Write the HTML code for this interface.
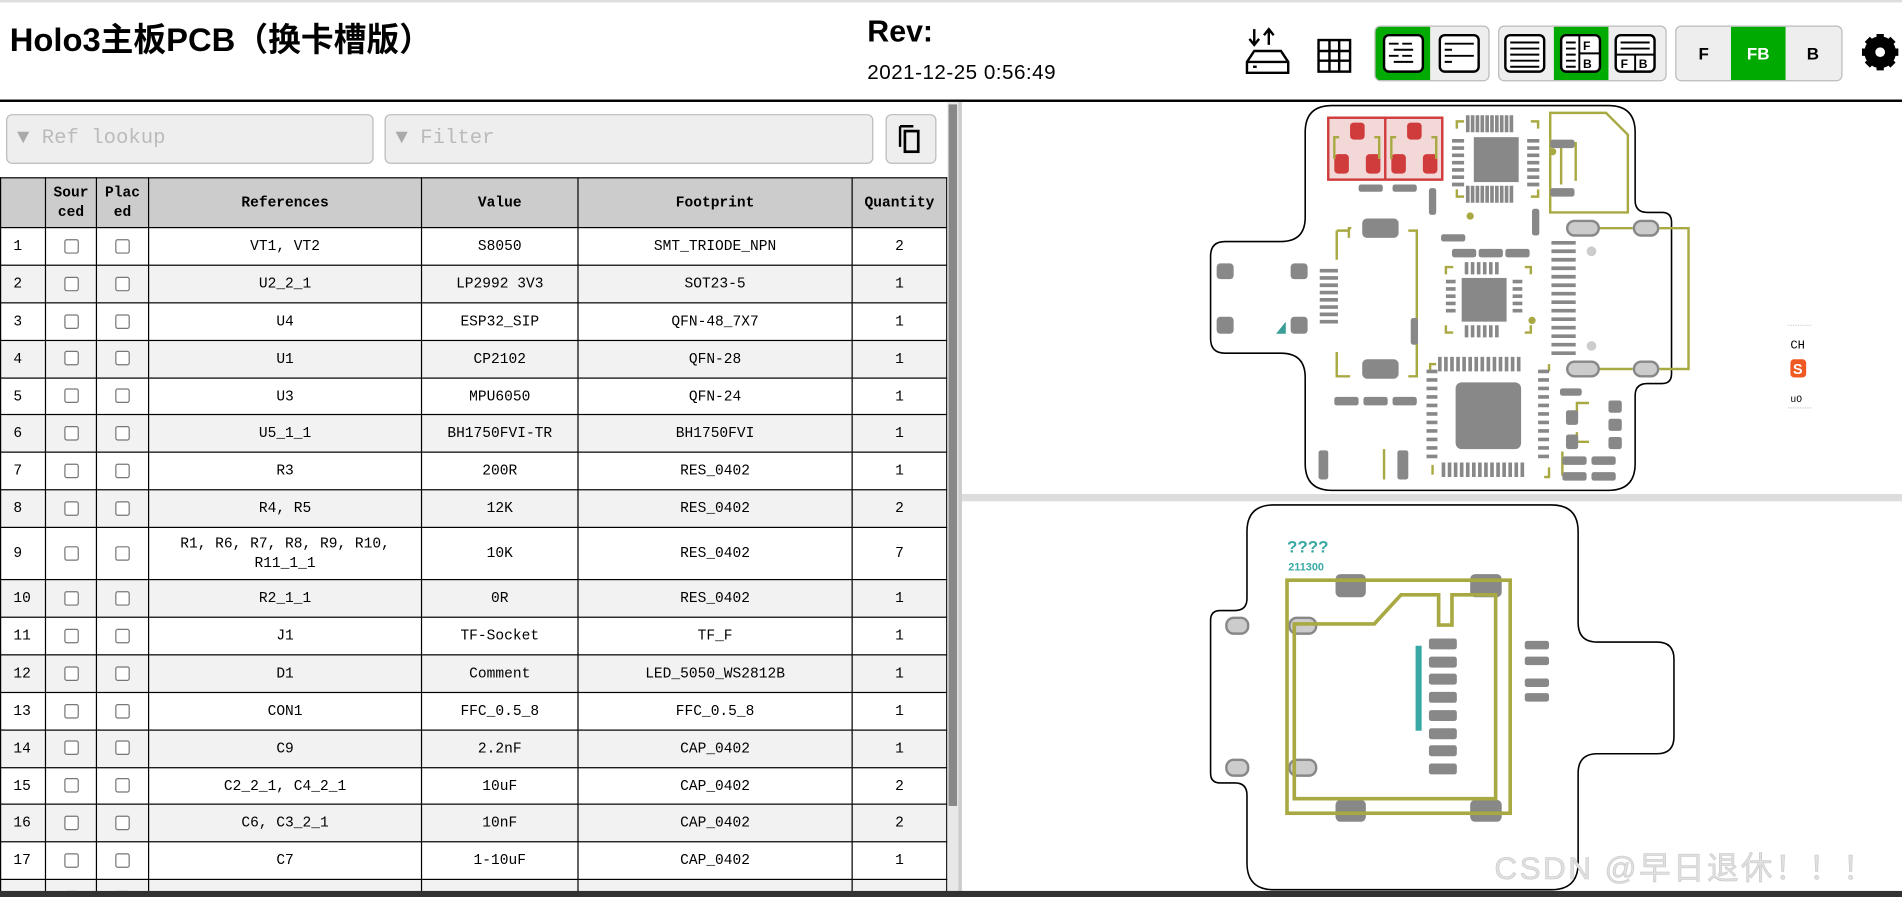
<!DOCTYPE html>
<html><head><meta charset="utf-8"><style>
html,body{margin:0;padding:0;width:1902px;height:897px;overflow:hidden;background:#fff}
#w{position:absolute;left:0;top:0;width:1568px;height:739px;transform:scale(1.21301,1.2138);transform-origin:0 0;font-family:"Liberation Sans","Noto Sans CJK SC",sans-serif;}
.a{position:absolute}
table{border-collapse:collapse;font-family:"Liberation Mono",monospace;font-size:12px;position:absolute;left:0;top:146px;width:781px}
td,th{border:1px solid #000;text-align:center;padding:0;line-height:16px}
th{background:#ccc;height:40px;font-size:12px}
td{height:29.9px;background:#fff}
tr:nth-child(odd) td{background:#f2f2f2}
td:first-child{text-align:left;padding-left:10px}
.cb{display:inline-block;width:10px;height:10px;border:1px solid #777;border-radius:2px;vertical-align:middle;background:#fff}
.inp{position:absolute;top:94px;height:39px;border:1px solid #bbb;border-radius:5px;background:#eee;font-family:"Liberation Mono",monospace;font-size:17px;color:#bbb;line-height:39px}
.grp{position:absolute;top:21px;height:44px;border:1px solid #bbb;border-radius:5px;background:#eee;overflow:hidden}
.btn{position:absolute;top:0;height:44px;width:45px}
</style></head><body><div id="w">
<div class="a" style="left:0;top:0;width:1568px;height:2px;background:#ddd"></div>
<div class="a" style="left:8px;top:11px;font-size:27px;font-weight:bold;letter-spacing:0px">Holo3主板PCB（换卡槽版）</div>
<div class="a" style="left:715px;top:12px;font-size:25px;font-weight:bold">Rev:</div>
<div class="a" style="left:715px;top:50px;font-size:17px;letter-spacing:0.4px">2021-12-25 0:56:49</div>
<svg class="a" style="left:1020px;top:15px" width="548" height="60" viewBox="1020 15 548 60">
 <g fill="none" stroke="#000" stroke-width="2">
  <path d="M1034,24 v12 m-4,-4 l4,5 l4,-5 M1046,37 v-12 m-4,4 l4,-5 l4,5"/>
  <path d="M1034,42 h22 l6,9 v9 h-34 v-9 z M1028,51 h34"/>
  <rect x="1087" y="33" width="26" height="26"/>
  <path d="M1096,33 v26 M1104,33 v26 M1087,42 h26 M1087,50 h26"/>
 </g>
 <rect x="1033" y="54" width="3" height="2" fill="#000"/>
</svg>
<div class="grp" style="left:1133px;width:93px">
 <div class="btn" style="left:0;background:#0a0"></div>
</div>
<div class="grp" style="left:1235px;width:137px">
 <div class="btn" style="left:45px;background:#0a0"></div>
</div>
<div class="grp" style="left:1381px;width:136px;font-weight:bold;font-size:14px">
 <div class="btn" style="left:0;line-height:44px;text-align:center">F</div>
 <div class="btn" style="left:45px;background:#0a0;color:#fff;line-height:44px;text-align:center">FB</div>
 <div class="btn" style="left:90px;line-height:44px;text-align:center">B</div>
</div>
<svg class="a" style="left:1130px;top:20px" width="438" height="50" viewBox="1130 20 438 50">
 <g fill="#fff" stroke="#000" stroke-width="2">
  <rect x="1141" y="29" width="32" height="30" rx="4"/>
  <rect x="1187" y="29" width="32" height="30" rx="4"/>
  <rect x="1241" y="29" width="32" height="30" rx="4"/>
  <rect x="1287" y="29" width="32" height="30" rx="4"/>
  <rect x="1332" y="29" width="32" height="30" rx="4"/>
 </g>
 <g stroke="#000" stroke-width="1.6">
  <path d="M1145,36h8m3,0h8 M1149,41h16 M1145,46h8m3,0h8 M1149,51h16"/>
  <path d="M1191,36h24 M1191,41h6 M1191,46h24 M1191,51h6"/>
  <path d="M1245,35h24 M1245,40h24 M1245,45h24 M1245,50h24 M1245,55h24"/>
  <path d="M1291,35h8 M1291,40h8 M1291,45h8 M1291,50h8 M1291,55h8 M1302,29v30 M1302,44h17"/>
  <path d="M1336,35h24 M1336,40h24 M1332,45h32 M1348,45v14"/>
 </g>
 <g font-family="Liberation Sans" font-weight="bold" font-size="10">
  <text x="1305" y="41">F</text><text x="1305" y="56">B</text>
  <text x="1336" y="56">F</text><text x="1351" y="56">B</text>
 </g>
 <g transform="translate(1550,43)">
  <circle r="10" fill="none" stroke="#000" stroke-width="6"/>
  <g stroke="#000" stroke-width="6"><path d="M0,-15v30M-15,0h30M-10.6,-10.6l21.2,21.2M10.6,-10.6l-21.2,21.2"/></g>
  <circle r="4" fill="#fff"/>
 </g>
</svg>
<div class="a" style="left:0;top:82px;width:1568px;height:2px;background:#000"></div>
<div class="inp" style="left:5px;width:301px"><span style="color:#aaa;margin-left:8px">▼</span> Ref lookup</div>
<div class="inp" style="left:317px;width:401px"><span style="color:#aaa;margin-left:8px">▼</span> Filter</div>
<div class="inp" style="left:730px;width:40px;background:#eee"></div>
<svg class="a" style="left:738px;top:101px" width="26" height="28"><path d="M4,3 h11 M4,3 v17" stroke="#000" stroke-width="2" fill="none"/><rect x="8" y="7" width="11" height="17" fill="none" stroke="#000" stroke-width="2.2"/></svg>
<div class="a" style="left:0;top:140px;width:781px;height:595px;overflow:hidden">
<table style="top:6px">
<tr><th style="width:36px"></th><th style="width:41px">Sour<br>ced</th><th style="width:42px">Plac<br>ed</th><th style="width:224px">References</th><th style="width:128px">Value</th><th style="width:225px">Footprint</th><th>Quantity</th></tr>
<tr><td>1</td><td><i class="cb"></i></td><td><i class="cb"></i></td><td>VT1, VT2</td><td>S8050</td><td>SMT_TRIODE_NPN</td><td>2</td></tr>
<tr><td>2</td><td><i class="cb"></i></td><td><i class="cb"></i></td><td>U2_2_1</td><td>LP2992 3V3</td><td>SOT23-5</td><td>1</td></tr>
<tr><td>3</td><td><i class="cb"></i></td><td><i class="cb"></i></td><td>U4</td><td>ESP32_SIP</td><td>QFN-48_7X7</td><td>1</td></tr>
<tr><td>4</td><td><i class="cb"></i></td><td><i class="cb"></i></td><td>U1</td><td>CP2102</td><td>QFN-28</td><td>1</td></tr>
<tr><td>5</td><td><i class="cb"></i></td><td><i class="cb"></i></td><td>U3</td><td>MPU6050</td><td>QFN-24</td><td>1</td></tr>
<tr><td>6</td><td><i class="cb"></i></td><td><i class="cb"></i></td><td>U5_1_1</td><td>BH1750FVI-TR</td><td>BH1750FVI</td><td>1</td></tr>
<tr><td>7</td><td><i class="cb"></i></td><td><i class="cb"></i></td><td>R3</td><td>200R</td><td>RES_0402</td><td>1</td></tr>
<tr><td>8</td><td><i class="cb"></i></td><td><i class="cb"></i></td><td>R4, R5</td><td>12K</td><td>RES_0402</td><td>2</td></tr>
<tr><td style="height:42px">9</td><td><i class="cb"></i></td><td><i class="cb"></i></td><td>R1, R6, R7, R8, R9, R10,<br>R11_1_1</td><td>10K</td><td>RES_0402</td><td>7</td></tr>
<tr><td>10</td><td><i class="cb"></i></td><td><i class="cb"></i></td><td>R2_1_1</td><td>0R</td><td>RES_0402</td><td>1</td></tr>
<tr><td>11</td><td><i class="cb"></i></td><td><i class="cb"></i></td><td>J1</td><td>TF-Socket</td><td>TF_F</td><td>1</td></tr>
<tr><td>12</td><td><i class="cb"></i></td><td><i class="cb"></i></td><td>D1</td><td>Comment</td><td>LED_5050_WS2812B</td><td>1</td></tr>
<tr><td>13</td><td><i class="cb"></i></td><td><i class="cb"></i></td><td>CON1</td><td>FFC_0.5_8</td><td>FFC_0.5_8</td><td>1</td></tr>
<tr><td>14</td><td><i class="cb"></i></td><td><i class="cb"></i></td><td>C9</td><td>2.2nF</td><td>CAP_0402</td><td>1</td></tr>
<tr><td>15</td><td><i class="cb"></i></td><td><i class="cb"></i></td><td>C2_2_1, C4_2_1</td><td>10uF</td><td>CAP_0402</td><td>2</td></tr>
<tr><td>16</td><td><i class="cb"></i></td><td><i class="cb"></i></td><td>C6, C3_2_1</td><td>10nF</td><td>CAP_0402</td><td>2</td></tr>
<tr><td>17</td><td><i class="cb"></i></td><td><i class="cb"></i></td><td>C7</td><td>1-10uF</td><td>CAP_0402</td><td>1</td></tr>
<tr><td>18</td><td><i class="cb"></i></td><td><i class="cb"></i></td><td>C1</td><td>100nF</td><td>CAP_0402</td><td>3</td></tr>
</table></div>
<div class="a" style="left:781px;top:84px;width:9px;height:651px;background:#e8e8e8"></div>
<div class="a" style="left:782px;top:86px;width:7px;height:578px;background:#888"></div>
<div class="a" style="left:790px;top:84px;width:3px;height:651px;background:#ccc"></div>
<div class="a" style="left:793px;top:407px;width:775px;height:6px;background:#ddd"></div>
<div class="a" style="left:0;top:734px;width:1568px;height:5px;background:#333"></div>
<svg class="a" style="left:0;top:0" width="1568" height="739" viewBox="0 0 1568 739">
 <g fill="none" stroke="#000" stroke-width="1.3">
  <path d="M1098,87 H1326 Q1348,87 1348,109 V165 Q1348,175 1358,175 H1370 Q1378,175 1378,183 V308 Q1378,316 1370,316 H1358 Q1348,316 1348,326 V382 Q1348,404 1326,404 H1098 Q1076,404 1076,382 V311 Q1076,291 1056,291 H1010 Q998,291 998,279 V211 Q998,199 1010,199 H1056 Q1076,199 1076,179 V109 Q1076,87 1098,87 Z"/>
  <path d="M1050,416 H1279 Q1301,416 1301,438 V513 Q1301,529 1317,529 H1366 Q1380,529 1380,543 V607 Q1380,621 1366,621 H1317 Q1301,621 1301,637 V711 Q1301,733 1279,733 H1050 Q1028,733 1028,711 V655 Q1028,645 1018,645 H1006 Q998,645 998,637 V511 Q998,503 1006,503 H1018 Q1028,503 1028,493 V438 Q1028,416 1050,416 Z"/>
 </g>
 <rect x="1095" y="97" width="94" height="51" fill="#f3d8d8" stroke="#d03c3c" stroke-width="2"/>
 <line x1="1142" y1="97" x2="1142" y2="148" stroke="#d03c3c" stroke-width="2"/>
 <g fill="#d03c3c">
  <rect x="1113" y="101" width="12" height="14" rx="3"/><rect x="1100" y="127" width="12" height="16" rx="3"/><rect x="1126" y="127" width="12" height="16" rx="3"/>
  <rect x="1160" y="101" width="12" height="14" rx="3"/><rect x="1147" y="127" width="12" height="16" rx="3"/><rect x="1173" y="127" width="12" height="16" rx="3"/>
 </g>
 <g fill="none" stroke="#a9a944" stroke-width="2">
  <path d="M1104,113 h-4 v18 M1133,113 h4 v18 M1151,113 h-4 v18 M1180,113 h4 v18"/>
  <path d="M1201,106 v-6 h6 M1262,100 h6 v6 M1201,156 v6 h6 M1262,162 h6 v-6"/>
  <path d="M1278,93 h46 l18,18 v64 h-64 z"/>
  <path d="M1112,196 v-8 h2 M1102,190 v24 M1102,190 h11 M1161,190 h7 v120 h-7 M1102,290 v20 h11"/>
  <path d="M1316,188 h30 M1368,188 h24 v116 h-24 M1316,304 h30"/>
  <path d="M1192,226 v-6 h6 M1257,220 h5 v6 M1192,268 v6 h6 M1257,274 h5 v-6"/>
  <path d="M1179,306 v-6 h5 M1277,300 v6 M1181,383 v8 M1277,385 v8 h-4"/>
  <path d="M1300,340 v-8 h10 M1300,356 v8 h10 M1288,372 v20"/>
  <path d="M1299,117 v32 M1287,117 v35 M1141,370 v25"/>
 </g>
 <g fill="#888">
  <rect x="1215" y="113" width="37" height="37"/>
  <rect x="1205" y="229" width="37" height="36"/>
  <rect x="1200" y="315" width="54" height="55" rx="5"/>
  <rect x="1123" y="180" width="30" height="16" rx="4"/>
  <rect x="1123" y="296" width="30" height="16" rx="4"/>
  <rect x="1003" y="217" width="14" height="13" rx="3"/><rect x="1003" y="261" width="14" height="14" rx="3"/>
  <rect x="1064" y="217" width="14" height="13" rx="3"/><rect x="1064" y="261" width="14" height="14" rx="3"/>
  <rect x="1087" y="371" width="8" height="24" rx="2"/><rect x="1152" y="371" width="9" height="24" rx="2"/>
  <rect x="1291" y="338" width="10" height="12" rx="2"/><rect x="1291" y="358" width="10" height="12" rx="2"/>
  <rect x="1326" y="330" width="11" height="10" rx="2"/><rect x="1326" y="345" width="11" height="10" rx="2"/><rect x="1326" y="360" width="11" height="10" rx="2"/>
 </g>
 <g stroke="#888" stroke-width="3">
  <path d="M1088,223h15M1088,229h15M1088,235h15M1088,241h15M1088,247h15M1088,253h15M1088,259h15M1088,265h15"/>
  <path d="M1279,200h20M1279,207h20M1279,214h20M1279,221h20M1279,228h20M1279,235h20M1279,242h20M1279,249h20M1279,256h20M1279,263h20M1279,270h20M1279,277h20M1279,284h20M1279,291h20"/>
  <path d="M1210,95v14M1214,95v14M1218,95v14M1222,95v14M1226,95v14M1230,95v14M1234,95v14M1238,95v14M1242,95v14M1246,95v14 M1210,153v14M1214,153v14M1218,153v14M1222,153v14M1226,153v14M1230,153v14M1234,153v14M1238,153v14M1242,153v14M1246,153v14"/>
  <path d="M1197,116h10M1197,122h10M1197,128h10M1197,134h10M1197,140h10M1197,146h10M1197,152h10M1259,116h10M1259,122h10M1259,128h10M1259,134h10M1259,140h10M1259,146h10M1259,152h10"/>
  <path d="M1209,216v10M1214,216v10M1219,216v10M1224,216v10M1229,216v10M1234,216v10M1209,268v10M1214,268v10M1219,268v10M1224,268v10M1229,268v10M1234,268v10"/>
  <path d="M1192,232h8M1192,238h8M1192,244h8M1192,250h8M1192,256h8M1247,232h8M1247,238h8M1247,244h8M1247,250h8M1247,256h8"/>
  <path d="M1187,294v12M1192,294v12M1197,294v12M1202,294v12M1207,294v12M1212,294v12M1217,294v12M1222,294v12M1227,294v12M1232,294v12M1237,294v12M1242,294v12M1247,294v12M1252,294v12 M1190,381v12M1195,381v12M1200,381v12M1205,381v12M1210,381v12M1215,381v12M1220,381v12M1225,381v12M1230,381v12M1235,381v12M1240,381v12M1245,381v12M1250,381v12M1255,381v12"/>
  <path d="M1176,306h9M1176,313h9M1176,320h9M1176,327h9M1176,334h9M1176,341h9M1176,348h9M1176,355h9M1176,362h9M1176,369h9M1176,376h9 M1268,306h9M1268,313h9M1268,320h9M1268,327h9M1268,334h9M1268,341h9M1268,348h9M1268,355h9M1268,362h9M1268,369h9M1268,376h9"/>
 </g>
 <g fill="#888">
  <rect x="1120" y="152" width="20" height="6" rx="2"/><rect x="1148" y="152" width="20" height="6" rx="2"/>
  <rect x="1178" y="155" width="6" height="22" rx="2"/><rect x="1263" y="172" width="6" height="22" rx="2"/>
  <rect x="1188" y="193" width="20" height="6" rx="2"/><rect x="1278" y="115" width="20" height="7" rx="2"/><rect x="1278" y="155" width="20" height="7" rx="2"/>
  <rect x="1197" y="205" width="20" height="7" rx="2"/><rect x="1219" y="205" width="20" height="7" rx="2"/><rect x="1241" y="205" width="20" height="7" rx="2"/>
  <rect x="1163" y="262" width="6" height="22" rx="2"/>
  <rect x="1100" y="327" width="20" height="7" rx="2"/><rect x="1124" y="327" width="20" height="7" rx="2"/><rect x="1148" y="327" width="20" height="7" rx="2"/>
  <rect x="1286" y="320" width="18" height="6" rx="2"/>
  <rect x="1288" y="376" width="20" height="7" rx="2"/><rect x="1312" y="376" width="20" height="7" rx="2"/>
  <rect x="1288" y="389" width="20" height="7" rx="2"/><rect x="1312" y="389" width="20" height="7" rx="2"/>
 </g>
 <g fill="#ccc" stroke="#888" stroke-width="2">
  <rect x="1292" y="182" width="26" height="12" rx="6"/><rect x="1347" y="182" width="20" height="12" rx="6"/>
  <rect x="1292" y="298" width="26" height="12" rx="6"/><rect x="1347" y="298" width="20" height="12" rx="6"/>
 </g>
 <circle cx="1312" cy="207" r="4" fill="#ccc"/><circle cx="1312" cy="285" r="4" fill="#ccc"/>
 <circle cx="1212" cy="178" r="3" fill="#a9a944"/><circle cx="1263" cy="264" r="3" fill="#a9a944"/><circle cx="1280" cy="125" r="3" fill="#a9a944"/>
 <path d="M1052,275 l8,-10 v10 z" fill="#3a9e96"/>
 <g font-family="Liberation Mono" font-size="10"><text x="1476" y="287">CH</text><text x="1476" y="331" font-size="8">uO</text></g>
 <path d="M1474,268 h20 M1474,336 h20" stroke="#ccc" stroke-dasharray="1 1"/>
 <rect x="1476" y="296" width="13" height="15" rx="3" fill="#f05a22"/><text x="1478" y="308" font-family="Liberation Sans" font-weight="bold" font-size="12" fill="#fff">S</text>
 <g fill="#888">
  <rect x="1101" y="473" width="25" height="19" rx="4"/><rect x="1212" y="473" width="26" height="19" rx="4"/>
  <rect x="1101" y="659" width="25" height="18" rx="4"/><rect x="1212" y="659" width="26" height="18" rx="4"/>
  <rect x="1178" y="526" width="23" height="9" rx="2"/><rect x="1178" y="541" width="23" height="9" rx="2"/><rect x="1178" y="555" width="23" height="9" rx="2"/><rect x="1178" y="570" width="23" height="9" rx="2"/><rect x="1178" y="585" width="23" height="9" rx="2"/><rect x="1178" y="600" width="23" height="9" rx="2"/><rect x="1178" y="614" width="23" height="9" rx="2"/><rect x="1178" y="629" width="23" height="9" rx="2"/>
  <rect x="1257" y="528" width="20" height="7" rx="2"/><rect x="1257" y="541" width="20" height="7" rx="2"/><rect x="1257" y="559" width="20" height="7" rx="2"/><rect x="1257" y="571" width="20" height="7" rx="2"/>
 </g>
 <g fill="#ccc" stroke="#888" stroke-width="2">
  <rect x="1011" y="509" width="18" height="13" rx="6"/><rect x="1011" y="626" width="18" height="13" rx="6"/>
  <rect x="1063" y="509" width="22" height="13" rx="6"/><rect x="1063" y="626" width="22" height="13" rx="6"/>
 </g>
 <g fill="none" stroke="#a9a944" stroke-width="3">
  <rect x="1061" y="478" width="184" height="192"/>
  <path d="M1067,658 V514 H1133 L1155,490 H1186 V515 H1197 V490 H1233 V658 Z"/>
 </g>
 <g fill="#3aa9a6" font-family="Liberation Sans" font-weight="bold">
  <text x="1061" y="455" font-size="14">????</text>
  <text x="1062" y="470" font-size="9">211300</text>
  <rect x="1167" y="532" width="5" height="70"/>
 </g>
 <text x="1232" y="724" font-size="26" letter-spacing="2" fill="#e0e0e0" stroke="#c8c8c8" stroke-width="0.5" style="font-family:'Liberation Sans','Noto Sans CJK SC',sans-serif">CSDN @早日退休！！！</text>
</svg>
</div></body></html>
